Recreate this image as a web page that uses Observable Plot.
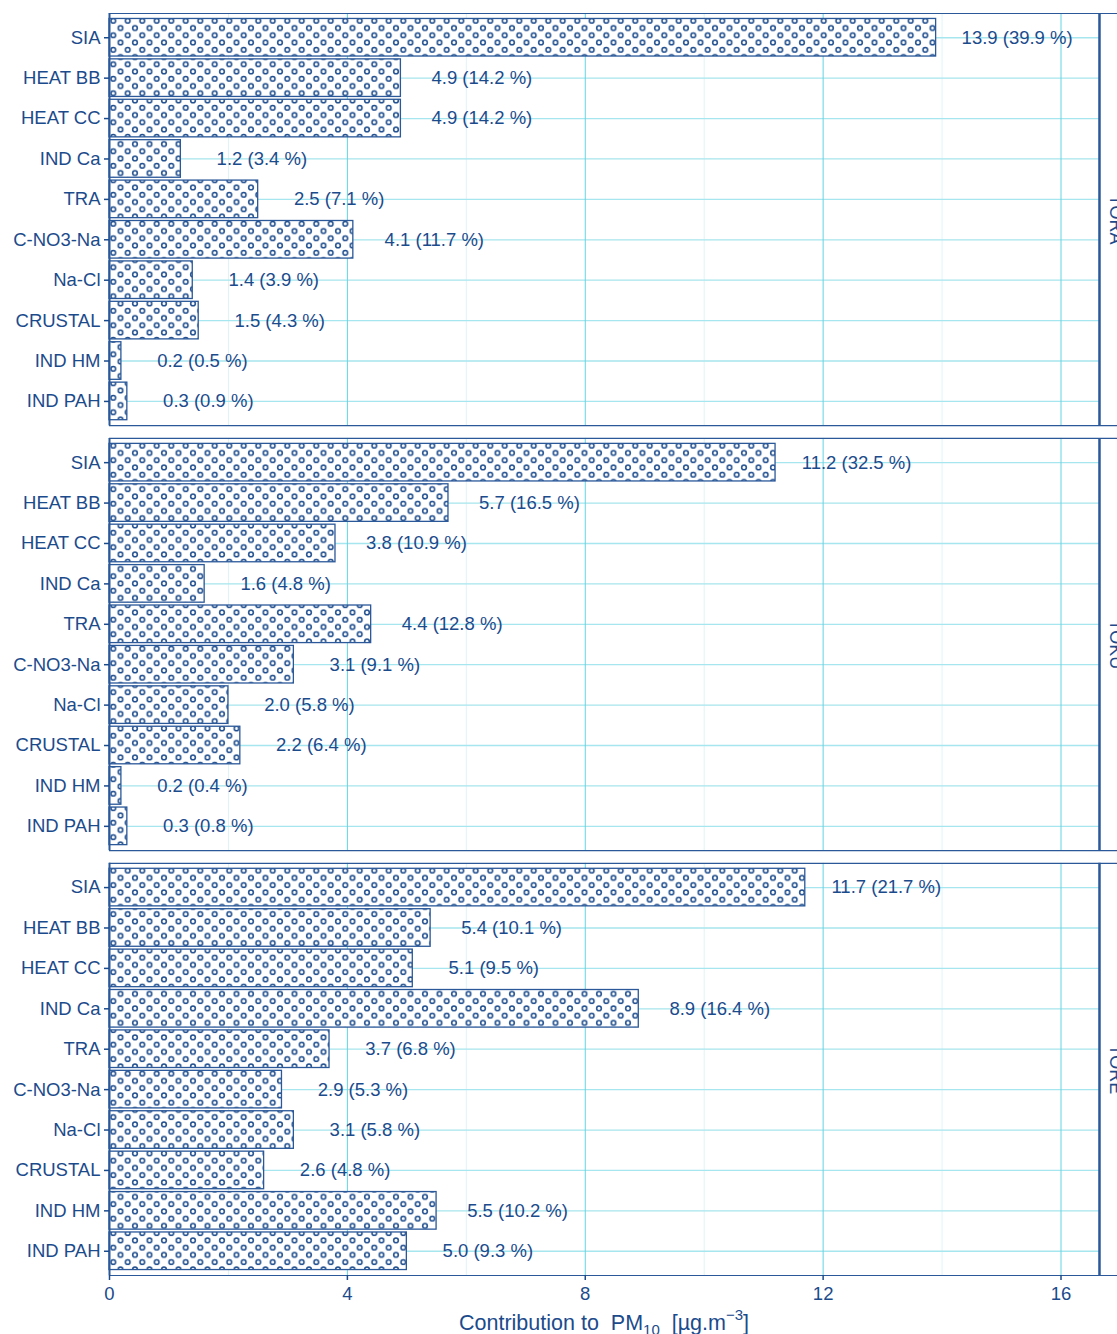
<!DOCTYPE html>
<html>
<head>
<meta charset="utf-8">
<script src="https://cdn.jsdelivr.net/npm/d3@7"></script>
<script src="https://cdn.jsdelivr.net/npm/@observablehq/plot@0.6"></script>
<style>
  html, body { margin: 0; padding: 0; background: white; overflow: hidden; }
  #chart svg { display: block; }
</style>
</head>
<body>
<div id="chart"></div>
<script>
// PM10 source contributions at three sites
const sources = ["SIA", "HEAT BB", "HEAT CC", "IND Ca", "TRA", "C-NO3-Na", "Na-Cl", "CRUSTAL", "IND HM", "IND PAH"];
const sites = ["TORA", "TOKU", "TORE"];

const toraValues = [13.9, 4.9, 4.9, 1.2, 2.5, 4.1, 1.4, 1.5, 0.2, 0.3];
const toraShares = [39.9, 14.2, 14.2, 3.4, 7.1, 11.7, 3.9, 4.3, 0.5, 0.9];
const tokuValues = [11.2, 5.7, 3.8, 1.6, 4.4, 3.1, 2.0, 2.2, 0.2, 0.3];
const tokuShares = [32.5, 16.5, 10.9, 4.8, 12.8, 9.1, 5.8, 6.4, 0.4, 0.8];
const toreValues = [11.7, 5.4, 5.1, 8.9, 3.7, 2.9, 3.1, 2.6, 5.5, 5.0];
const toreShares = [21.7, 10.1, 9.5, 16.4, 6.8, 5.3, 5.8, 4.8, 10.2, 9.3];

const xTicks = [0, 4, 8, 12, 16];
const xMinorTicks = [2, 6, 10, 14];

const seriesBySite = {
  TORA: [toraValues, toraShares],
  TOKU: [tokuValues, tokuShares],
  TORE: [toreValues, toreShares]
};

const rows = sites.flatMap(site => {
  const [values, shares] = seriesBySite[site];
  return sources.map((source, i) => ({site, source, value: values[i], share: shares[i]}));
});

const ink = "#1c4b8c";
const edge = "#2a5899";
const xMax = 16.95;       // right end of the strip area
const panelEdge = 16.647; // right border of each panel

const chart = Plot.plot({
  width: 1117,
  height: 1334,
  marginLeft: 109,
  marginRight: 0,
  marginTop: 13,
  marginBottom: 59,
  style: {
    fontFamily: "'Liberation Sans', Arial, Helvetica, sans-serif",
    fontSize: "18.5px",
    color: ink,
    background: "white",
    overflow: "hidden"
  },
  x: {domain: [0, xMax], round: false},
  y: {domain: sources, paddingInner: 0.07, paddingOuter: 0.135, round: false},
  fy: {domain: sites, paddingInner: 0.03, paddingOuter: 0, round: false, axis: null},
  marks: [
    // grid
    Plot.gridX({ticks: xMinorTicks, stroke: "#dff4f7", strokeOpacity: 1, strokeWidth: 1}),
    Plot.ruleY(sources, {y: d => d, x1: 0, x2: panelEdge, stroke: "#a6e6ee", strokeWidth: 1.3}),
    Plot.gridX({ticks: xTicks.slice(1), stroke: "#62d4e2", strokeOpacity: 1, strokeWidth: 1}),
    // bars with dotted fill
    Plot.barX(rows, {
      x: "value", y: "source", fy: "site",
      fill: "url(#dots)", stroke: edge, strokeWidth: 1.3
    }),
    // value labels
    Plot.text(rows, {
      x: "value", y: "source", fy: "site",
      text: d => `${d.value.toFixed(1)} (${d.share.toFixed(1)} %)`,
      dx: 81, textAnchor: "middle", fontSize: 18.5, fill: ink
    }),
    // panel borders
    Plot.frame({anchor: "top", stroke: edge, strokeWidth: 1.2}),
    Plot.frame({anchor: "bottom", stroke: edge, strokeWidth: 1.2}),
    Plot.ruleX([panelEdge], {stroke: edge, strokeWidth: 2.5}),
    Plot.ruleX([0], {stroke: edge, strokeWidth: 2}),
    // facet labels in the right strip
    Plot.text(sites, {
      fy: d => d, text: d => d, frameAnchor: "right",
      rotate: 90, dx: -2, lineAnchor: "middle", textAnchor: "middle",
      fontSize: 18, fill: ink
    }),
    // axes
    Plot.axisY({tickSize: 5, tickPadding: 4, label: null, fontSize: 18.5, strokeWidth: 1.5}),
    Plot.axisX({ticks: xTicks, tickSize: 5, tickPadding: 6, label: null, fontSize: 18.5, strokeWidth: 1.5})
  ]
});

// dotted pattern used as bar fill
const svg = d3.select(chart);
const defs = svg.insert("defs", ":first-child");
const pat = defs.append("pattern")
  .attr("id", "dots")
  .attr("patternUnits", "userSpaceOnUse")
  .attr("x", 106).attr("y", 17)
  .attr("width", 14.5).attr("height", 14.5);
pat.append("rect").attr("width", 14.5).attr("height", 14.5).attr("fill", "white");
for (const [cx, cy] of [[7.25, 3.8], [0, 11.05], [14.5, 11.05]]) {
  pat.append("circle").attr("cx", cx).attr("cy", cy).attr("r", 2.3)
    .attr("fill", "none").attr("stroke", ink).attr("stroke-width", 1.5);
}

// x axis title with subscript and superscript
const title = svg.append("text")
  .attr("x", (109 + 1099) / 2)
  .attr("y", 1330)
  .attr("text-anchor", "middle")
  .attr("font-size", 21.5)
  .attr("fill", ink);
title.append("tspan").text("Contribution to\u00a0\u00a0PM");
title.append("tspan").attr("font-size", 15).attr("dy", 5).text("10");
title.append("tspan").attr("dy", -5).text("\u00a0\u00a0[\u00b5g.m");
title.append("tspan").attr("font-size", 15).attr("dy", -10).text("\u22123");
title.append("tspan").attr("dy", 10).text("]");

document.getElementById("chart").append(chart);
</script>
</body>
</html>
